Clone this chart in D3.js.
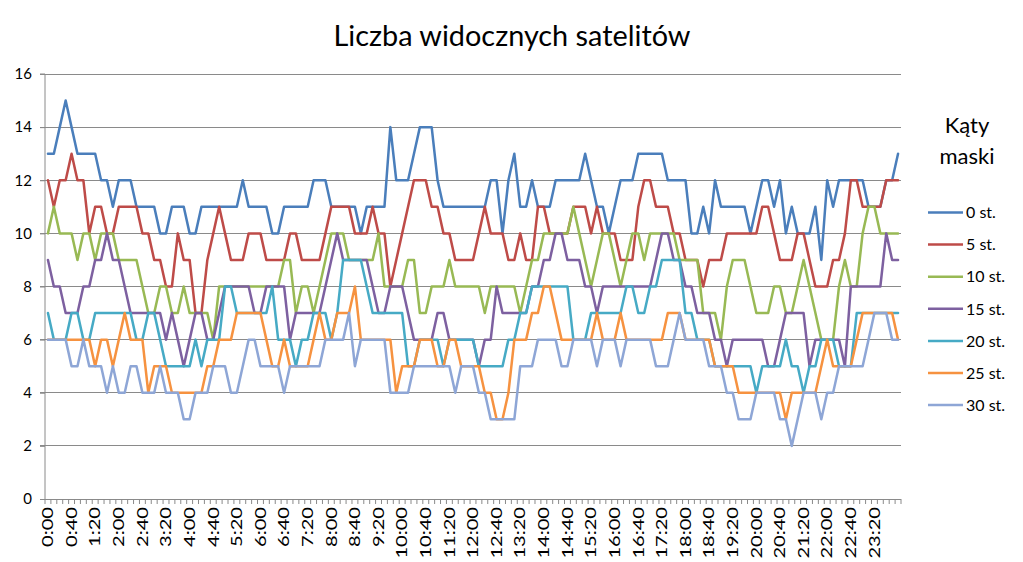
<!DOCTYPE html>
<html><head><meta charset="utf-8">
<script src="https://cdn.jsdelivr.net/npm/d3@7"></script>
<style>body{margin:0;background:#fff;} svg{display:block;font-family:Lato,"Open Sans",sans-serif;}</style>
</head><body><svg id="c" width="1023" height="562"></svg>
<script>
const title = "Liczba widocznych satelitów";
const legendTitle = ["Kąty", "maski"];
const seriesNames = ["0 st.", "5 st.", "10 st.", "15 st.", "20 st.", "25 st.", "30 st."];
const seriesColors = ["#4A7EBB", "#BE4B48", "#98B954", "#7D60A0", "#46AAC5", "#F69240", "#8EA6D6"];
const yTicks = [0, 2, 4, 6, 8, 10, 12, 14, 16];
// 10-minute categories 0:00 ... 24:00
const categories = d3.range(145).map(i => Math.floor(i / 6) + ":" + String((i % 6) * 10).padStart(2, "0"));
const labelEvery = 4, lastLabel = 140;

const s0 = [13,13,14,15,14,13,13,13,13,12, 12,11,12,12,12,11,11,11,11,10, 10,11,11,11,10,10,11,11,11,11,
 11,11,11,12,11,11,11,11,10,10, 11,11,11,11,11,12,12,12,11,11, 11,11,11,10,11,11,11,11,14,12,
 12,12,13,14,14,14,12,11,11,11, 11,11,11,11,11,12,12,10,12,13, 11,11,12,11,11,11,12,12,12,12,
 12,13,12,11,11,10,11,12,12,12, 13,13,13,13,13,12,12,12,12,10, 10,11,10,12,11,11,11,11,11,10,
 11,12,12,11,12,10,11,10,10,10, 11,9,12,11,12,12,12,12,12,11, 11,11,12,12,13];
const s1 = [12,11,12,12,13,12,12,10,11,11, 10,10,11,11,11,11,10,10,9,9, 8,8,10,9,9,7,7,9,10,11,
 10,9,9,9,10,10,10,9,9,9, 9,10,10,9,9,9,9,10,11,11, 11,11,10,10,10,11,10,10,8,9,
 10,11,12,12,12,11,11,10,10,9, 9,9,9,10,11,10,10,10,9,9, 10,9,9,11,11,10,10,10,10,11,
 11,11,10,11,10,10,10,9,9,9, 11,12,12,11,11,11,10,10,9,9, 9,8,9,9,9,10,10,10,10,10,
 10,11,11,10,9,9,9,10,10,9, 8,8,8,9,9,10,12,12,11,11, 11,11,12,12,12];
const s2 = [10,11,10,10,10,9,10,10,9,10, 10,10,9,9,9,9,8,7,7,8, 8,7,7,8,7,7,7,7,6,8,
 8,8,8,8,8,8,8,8,8,8, 9,9,7,8,8,7,8,9,10,10, 10,9,9,9,9,9,10,8,8,8,
 8,9,9,7,7,8,8,8,9,8, 8,8,8,8,7,8,8,8,8,8, 7,8,9,9,10,10,10,10,10,11,
 10,9,8,9,10,10,9,8,9,10, 10,9,10,10,10,10,10,9,9,9, 9,7,7,7,6,8,9,9,9,8,
 7,7,7,8,8,7,7,8,9,8, 7,6,6,6,8,9,8,8,10,11, 11,10,10,10,10];
const s3 = [9,8,8,7,7,7,8,8,9,9, 10,9,9,8,7,7,7,7,7,7, 6,7,6,5,6,7,7,6,6,7,
 8,8,8,8,8,7,7,8,8,8, 8,6,7,7,7,7,7,8,9,10, 9,9,9,9,9,8,7,7,8,8,
 8,7,6,6,6,6,7,7,6,6, 6,6,6,5,6,6,8,7,7,7, 7,7,8,8,9,9,10,10,9,9,
 9,8,8,7,8,8,8,8,8,8, 8,8,8,9,10,10,9,9,8,8, 7,7,7,6,6,5,6,6,6,6,
 6,6,5,5,6,7,7,7,7,5, 6,6,6,6,6,5,8,8,8,8, 8,8,10,9,9];
const s4 = [7,6,6,6,7,7,6,6,7,7, 7,7,7,7,7,6,6,7,7,6, 5,5,5,5,5,6,5,6,6,6,
 8,8,7,7,7,7,7,7,8,6, 6,6,5,6,6,7,7,7,6,7, 9,9,9,9,8,7,7,7,7,7,
 7,5,5,6,6,6,6,5,6,6, 6,6,6,5,5,5,5,5,6,6, 7,7,8,8,8,8,8,8,8,6,
 6,6,7,7,7,7,7,7,8,8, 7,7,8,8,9,9,9,9,7,7, 6,6,6,5,5,5,5,5,5,5,
 4,5,5,5,5,6,5,5,4,5, 5,6,6,6,5,5,5,7,7,7, 7,7,7,7,7];
const s5 = [6,6,6,6,6,6,6,6,5,6, 6,5,6,7,6,6,6,4,5,5, 5,4,4,4,4,4,4,5,5,6,
 6,6,7,7,7,7,7,6,5,5, 6,5,5,5,5,6,7,6,6,7, 7,7,8,6,6,6,6,6,6,4,
 5,5,5,6,6,6,5,5,6,6, 5,5,5,5,4,4,3,3,4,6, 6,6,7,7,8,8,7,6,6,6,
 6,6,6,7,6,6,6,7,6,6, 6,6,6,6,6,7,7,7,6,6, 6,6,6,5,5,5,5,4,4,4,
 4,4,4,4,4,3,4,4,4,4, 4,5,6,5,5,5,5,6,7,7, 7,7,7,7,6];
const s6 = [6,6,6,6,5,5,6,5,5,5, 4,5,4,4,5,5,4,4,4,5, 4,4,4,3,3,4,4,4,5,5,
 5,4,4,5,6,6,5,5,5,5, 4,5,5,5,5,5,5,6,6,6, 6,7,5,6,6,6,6,6,4,4,
 4,4,5,5,5,5,5,5,5,4, 5,5,5,4,4,3,3,3,3,3, 5,5,5,6,6,6,6,5,5,6,
 6,6,6,5,6,6,6,5,6,6, 6,6,6,5,5,5,6,7,6,6, 6,6,5,5,5,4,4,3,3,3,
 4,4,4,4,3,3,2,3,4,4, 4,3,4,4,5,5,5,5,5,6, 7,7,7,6,6];
const seriesValues = [s0, s1, s2, s3, s4, s5, s6];

const svg = d3.select("#c");
const L = 45, R = 901, T = 74, B = 499;
const x = d3.scaleBand().domain(d3.range(categories.length)).range([L, R]).paddingInner(0).paddingOuter(0);
const y = d3.scaleLinear().domain([0, 16]).range([B, T]);
const cx = i => x(i) + x.bandwidth() / 2;

// gridlines
svg.append("g").selectAll("line").data(yTicks.filter(v => v > 0)).join("line")
  .attr("x1", L - 5).attr("x2", R).attr("y1", d => y(d)).attr("y2", d => y(d))
  .attr("stroke", "#8a8a8a").attr("stroke-width", 1).attr("shape-rendering", "crispEdges");

// y axis
const yAxis = svg.append("g").attr("transform", `translate(${L},0)`)
  .call(d3.axisLeft(y).tickValues(yTicks).tickSize(5).tickPadding(8).tickFormat(d3.format("d")));
yAxis.select(".domain").attr("stroke", "#8a8a8a").attr("d", `M-5,${T}H0V${B}`);
yAxis.selectAll(".tick line").attr("stroke", "#8a8a8a");
yAxis.selectAll(".tick text").attr("font-size", 15).attr("fill", "#000").attr("font-family", "Lato");

// x axis
const xg = svg.append("g").attr("transform", `translate(0,${B})`);
xg.append("line").attr("x1", L - 5).attr("x2", R).attr("y1", 0).attr("y2", 0)
  .attr("stroke", "#8a8a8a").attr("shape-rendering", "crispEdges");
xg.selectAll("line.t").data(d3.range(categories.length + 1)).join("line").attr("class", "t")
  .attr("x1", i => i < categories.length ? x(i) : R).attr("x2", i => i < categories.length ? x(i) : R)
  .attr("y1", 0).attr("y2", 5).attr("stroke", "#8a8a8a");
const labIdx = d3.range(categories.length).filter(i => i % labelEvery === 0 && i <= lastLabel);
const xl = xg.selectAll("text").data(labIdx).join("text")
  .attr("text-anchor", "end").attr("font-size", 15).attr("fill", "#000").attr("dy", "0.35em")
  .text(i => categories[i]);
// measure "0:00" and stretch to reference length
const m = xl.filter(i => i === 0).node().getComputedTextLength();
const sx = 40 / m;
xl.attr("transform", i => `translate(${cx(i)},8) rotate(-90) scale(${sx},1)`);

// lines
const line = d3.line().x((d, i) => cx(i)).y(d => y(d));
svg.append("g").selectAll("path").data(seriesValues).join("path")
  .attr("d", line).attr("fill", "none")
  .attr("stroke", (d, i) => seriesColors[i]).attr("stroke-width", 2.5)
  .attr("stroke-linejoin", "round").attr("stroke-linecap", "round");

// title
const t = svg.append("text").attr("x", 512).attr("y", 46).attr("text-anchor", "middle")
  .attr("font-size", 28).attr("fill", "#000").text(title);
const tw = t.node().getComputedTextLength();
t.attr("font-size", 28 * 357 / tw);

// legend
const lg = svg.append("g");
lg.selectAll("text.h").data(legendTitle).join("text").attr("class", "h")
  .attr("x", 967).attr("y", (d, i) => 133 + i * 31).attr("text-anchor", "middle")
  .attr("font-size", 22).attr("fill", "#000").text(d => d);
const li = lg.selectAll("g.i").data(seriesNames).join("g").attr("class", "i")
  .attr("transform", (d, i) => `translate(0,${212.5 + i * 32.1})`);
li.append("line").attr("x1", 928).attr("x2", 963).attr("y1", 0).attr("y2", 0)
  .attr("stroke", (d, i) => seriesColors[i]).attr("stroke-width", 2.5);
li.append("text").attr("x", 966).attr("y", 0).attr("dy", "0.36em")
  .attr("font-size", 16).attr("fill", "#000").text(d => d);
</script></body></html>
